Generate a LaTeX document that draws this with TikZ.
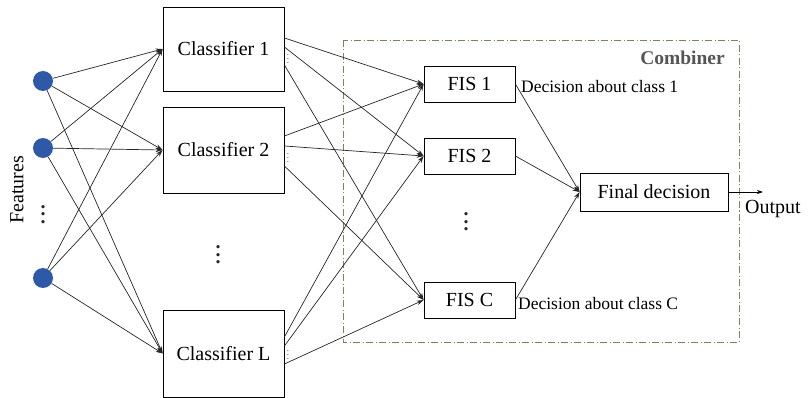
\documentclass[tikz,border=0pt]{standalone}
\usepackage{fontspec}
\setmainfont{Liberation Serif}
\usetikzlibrary{arrows.meta,calc}
\definecolor{featblue}{RGB}{46,89,168}
\definecolor{combgreen}{RGB}{110,140,90}
\definecolor{combgray}{RGB}{85,85,85}
\newcommand{\mybigdots}{\vbox{\baselineskip7.5pt\lineskiplimit0pt\hbox{\bfseries .}\hbox{\bfseries .}\hbox{\bfseries .}}}
\newcommand{\mytinydots}{\vbox{\baselineskip4pt\lineskiplimit0pt\hbox{.}\hbox{.}\hbox{.}}}
\begin{document}
\begin{tikzpicture}[x=1pt,y=1pt,
  conn/.style={line width=0.7pt,draw=black!85,-{Stealth[length=7pt,width=4.5pt]}},
  feat/.style={circle,fill=featblue,minimum size=20pt,inner sep=0pt},
  clsbox/.style={draw,line width=0.8pt,minimum width=121pt,inner sep=0pt,font=\fontsize{20}{24}\selectfont},
  fisbox/.style={draw,line width=0.8pt,minimum width=91pt,minimum height=36pt,inner sep=0pt,font=\fontsize{20}{24}\selectfont},
  bigtext/.style={font=\fontsize{20}{24}\selectfont,inner sep=0pt},
  labtext/.style={font=\fontsize{17.5}{20}\selectfont,inner sep=0pt,anchor=west},
  vd/.style={inner sep=0pt,font=\fontsize{20}{24}\selectfont,text=black!85},
  smallvd/.style={inner sep=0pt,font=\fontsize{9}{9}\selectfont,text=black!75}
]
\useasboundingbox (0,0) rectangle (808,-398);

% combiner frame
\draw[combgreen,line width=0.8pt,dash pattern=on 7pt off 2.5pt on 1pt off 2.5pt] (343,-40) rectangle (739,-342);
\node[font=\fontsize{19.5}{22}\selectfont\bfseries,text=combgray,anchor=east,inner sep=0pt] (comb) at (725,-58) {Combiner};

% features
\node[feat] (f1) at (43,-81) {};
\node[feat] (f2) at (43,-148) {};
\node[feat] (f3) at (43,-278) {};
\node[vd] (fdots) at (43,-214.5) {\mybigdots};
\node[bigtext,rotate=90] (feattext) at (17,-190) {Features};

% classifiers
\node[clsbox,minimum height=84pt] (c1) at (223.5,-49) {Classifier 1};
\node[clsbox,minimum height=86pt] (c2) at (223.5,-150) {Classifier 2};
\node[clsbox,minimum height=87pt] (cL) at (223.5,-353.5) {Classifier L};
\node[vd] (cdots) at (218,-255) {\mybigdots};

\node[smallvd] (d1) at (288,-59) {\mytinydots};
\node[smallvd] (d2) at (288,-158) {\mytinydots};
\node[smallvd] (dL) at (288,-355) {\mytinydots};

% FIS
\node[fisbox] (fis1) at (469.5,-84) {FIS 1};
\node[fisbox] (fis2) at (469.5,-156) {FIS 2};
\node[fisbox] (fisC) at (469.5,-300) {FIS C};
\node[vd] (fisdots) at (466,-222) {\mybigdots};

% final
\node[draw,line width=0.8pt,minimum width=148pt,minimum height=38pt,inner sep=0pt,font=\fontsize{20}{24}\selectfont] (fin) at (654,-192) {Final decision};
\coordinate (out) at (763,-192);
\node[bigtext,anchor=west] (outtext) at (745,-209) {Output};

\node[labtext] (dec1) at (521,-87) {Decision about class 1};
\node[labtext] (decC) at (518,-304) {Decision about class C};

% feature -> classifier
\foreach \f in {f1,f2,f3}{
  \foreach \c in {c1,c2,cL}{
    \draw[conn] (\f) -- (\c.west);
  }
}

% classifier -> FIS
\draw[conn] ([yshift=11pt]c1.east) -- (fis1.west);
\draw[conn] ([yshift=2pt]c1.east) -- (fis2.west);
\draw[conn] ([yshift=-16pt]c1.east) -- (fisC.west);
\draw[conn] ([yshift=14pt]c2.east) -- (fis1.west);
\draw[conn] ([yshift=4pt]c2.east) -- (fis2.west);
\draw[conn] ([yshift=-16pt]c2.east) -- (fisC.west);
\draw[conn] ([yshift=16.5pt]cL.east) -- (fis1.west);
\draw[conn] ([yshift=7.5pt]cL.east) -- (fis2.west);
\draw[conn] ([yshift=-10.5pt]cL.east) -- (fisC.west);

% FIS -> final
\draw[conn] (fis1.east) -- (fin.west);
\draw[conn] (fis2.east) -- (fin.west);
\draw[conn] (fisC.east) -- (fin.west);

% output
\draw[line width=0.7pt,-{Stealth[length=6pt,width=4pt]}] (fin.east) -- (out);
\end{tikzpicture}
\end{document}
